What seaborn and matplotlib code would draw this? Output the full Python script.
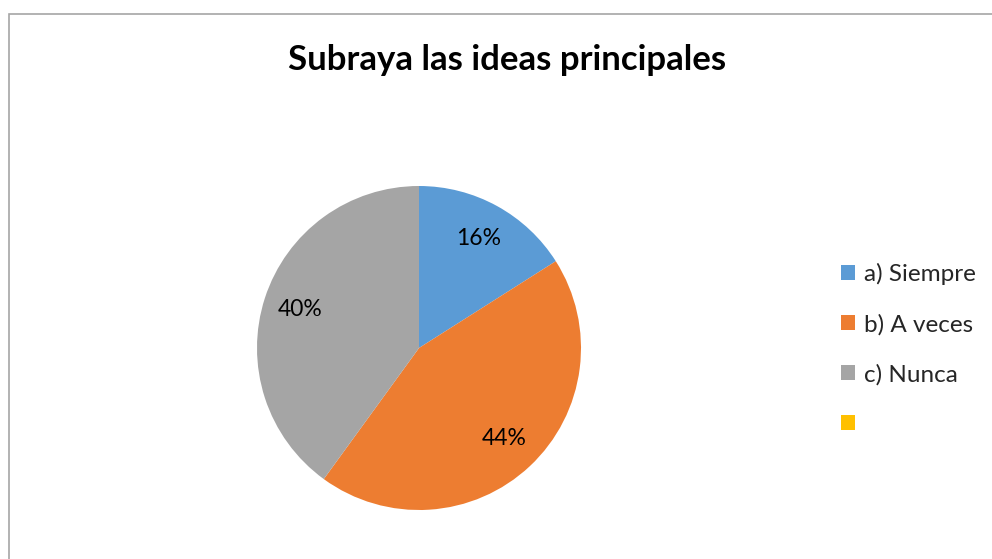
import matplotlib.pyplot as plt
import seaborn as sns
from matplotlib.patches import Patch, Rectangle

# data
labels = ["a) Siempre", "b) A veces", "c) Nunca", ""]
values = [16, 44, 40, 0]
colors = ["#5B9BD5", "#ED7D31", "#A5A5A5", "#FFC000"]
title = "Subraya las ideas principales"

sns.set_theme(style="white")
plt.rcParams["font.family"] = ["Lato", "DejaVu Sans"]

W, H = 992, 559
fig = plt.figure(figsize=(W / 100, H / 100), dpi=100)

# chart frame (only left and top visible in the crop)
frame = Rectangle((9 / W, -0.1), 1.1, (H - 14) / H + 0.1, transform=fig.transFigure,
                  fill=False, edgecolor="#A6A6A6", linewidth=1.2)
fig.add_artist(frame)

# pie
cx, cy, r = 419, H - 348, 162
ax = fig.add_axes([(cx - r) / W, (cy - r) / H, 2 * r / W, 2 * r / H])
pie_vals = [v for v in values if v > 0]
pie_cols = [c for v, c in zip(values, colors) if v > 0]
wedges, texts, autotexts = ax.pie(
    pie_vals, colors=pie_cols, startangle=90, counterclock=False,
    autopct=lambda p: f"{p:.0f}%", pctdistance=0.77, radius=1,
    wedgeprops={"linewidth": 0},
    textprops={"fontsize": 16.5, "color": "black"},
)
ax.set_xlim(-1, 1)
ax.set_ylim(-1, 1)
ax.set_aspect("equal")
ax.axis("off")

fig.text(507 / W, 1 - 60 / H, title, ha="center", va="center",
         fontsize=25, fontweight="bold", color="black")

handles = [Patch(facecolor=c, edgecolor="none") for c in colors]
fig.legend(handles, labels, loc="center left", bbox_to_anchor=(829 / W, 1 - 349 / H),
           frameon=False, fontsize=17.5, handlelength=0.55, handleheight=0.55,
           handletextpad=0.4, labelspacing=1.18, borderpad=0)

fig.savefig("out.png", dpi=100, facecolor="white")
